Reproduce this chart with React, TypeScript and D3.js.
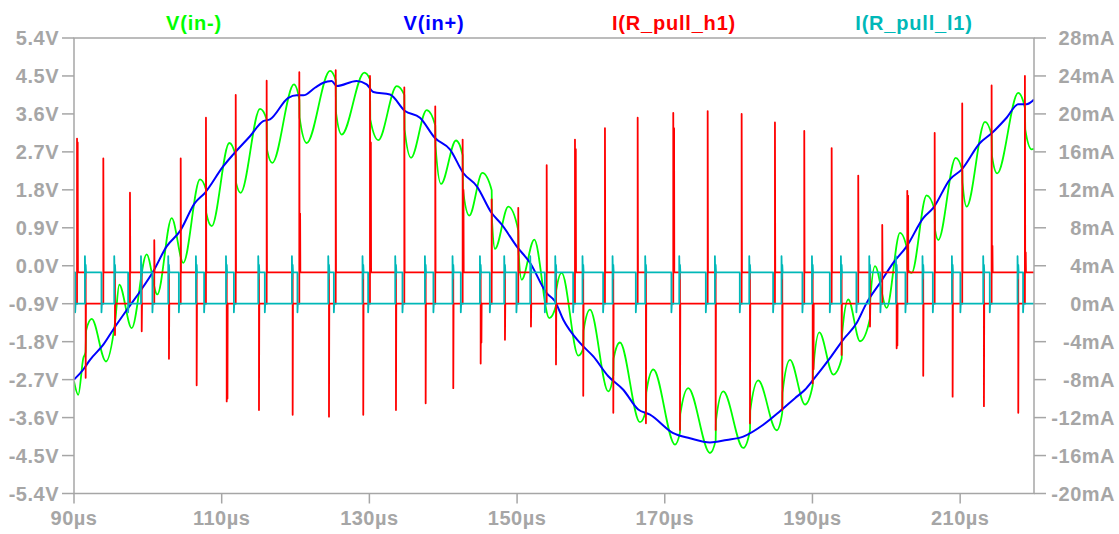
import React from "react";
import * as d3 from "d3";

const W = 1119;
const H = 534;

// axis ticks
const timeTicks = [90, 110, 130, 150, 170, 190, 210];
const voltTicks = [5.4, 4.5, 3.6, 2.7, 1.8, 0.9, 0.0, -0.9, -1.8, -2.7, -3.6, -4.5, -5.4];
const currentTicks = [28, 24, 20, 16, 12, 8, 4, 0, -4, -8, -12, -16, -20];

const traceNames = ["V(in-)", "V(in+)", "I(R_pull_h1)", "I(R_pull_l1)"];
const traceColors = ["#00ff00", "#0000ff", "#ff0000", "#00b8b8"];

// V(in+)  [µs, V]
const vInPlus: [number, number][] = [
  [90.0, -2.70], [91.26, -2.46], [92.17, -2.23], [93.97, -1.87], [95.32, -1.51],
  [97.35, -1.0], [98.94, -0.61], [100.74, -0.13], [102.55, 0.46], [104.35, 0.82],
  [106.38, 1.49], [107.74, 1.73], [110.22, 2.36], [111.57, 2.64], [113.83, 3.07],
  [115.63, 3.43], [116.54, 3.47], [119.02, 3.98], [120.16, 4.04], [121.05, 4.04],
  [122.63, 4.22], [123.76, 4.34], [124.89, 4.38], [125.57, 4.26], [128.28, 4.38],
  [129.63, 4.30], [130.53, 4.12], [132.79, 4.06], [134.82, 3.67], [136.85, 3.51],
  [138.88, 3.03], [140.91, 2.76], [142.71, 2.20], [144.53, 1.89], [146.56, 1.25],
  [147.91, 0.98], [149.95, 0.46], [151.75, 0.07], [154.01, -0.65], [155.13, -0.84],
  [156.26, -1.28], [158.52, -1.83], [160.32, -2.15], [162.35, -2.62], [164.38, -2.94],
  [166.41, -3.41], [168.0, -3.53], [171.15, -3.97], [173.41, -4.09], [176.12, -4.19],
  [178.38, -4.13], [180.63, -4.05], [183.34, -3.77], [185.6, -3.45], [187.63, -3.14],
  [188.98, -2.94], [190.11, -2.70], [192.37, -2.19], [194.17, -1.75], [195.98, -1.36],
  [197.34, -0.88], [199.14, -0.41], [200.94, 0.07], [202.76, 0.46], [205.0, 1.13],
  [206.36, 1.37], [208.62, 2.05], [210.2, 2.28], [212.68, 2.91], [214.26, 3.14],
  [216.29, 3.51], [217.87, 3.83], [219.0, 3.83], [220.0, 3.94],
];

// V(in-)  [µs, V]
const vInMinus: [number, number][] = [
  [90.0, -2.74], [90.58, -3.06], [91.26, -2.19], [91.56, -2.05], [91.65, -1.53],
  [92.4, -1.26], [94.33, -2.27], [95.55, -1.36], [96.13, -0.45], [97.81, -1.48],
  [99.84, 0.27], [101.28, -0.68], [103.23, 1.13], [104.8, 0.07], [107.06, 2.05],
  [107.87, 1.81], [107.91, 1.25], [108.65, 0.94], [111.03, 2.91], [111.9, 2.60],
  [111.94, 1.97], [112.57, 1.73], [115.19, 3.72], [116.09, 3.47], [116.13, 2.76],
  [116.85, 2.44], [119.79, 4.30], [120.51, 3.94], [120.55, 3.51], [121.51, 2.91],
  [124.67, 4.62], [125.44, 4.40], [125.48, 3.63], [126.25, 3.11], [129.31, 4.58],
  [130.08, 4.42], [130.12, 3.47], [131.21, 2.98], [133.7, 4.26], [134.73, 4.05],
  [134.77, 3.23], [135.64, 2.56], [137.76, 3.69], [138.92, 3.33], [138.96, 2.84],
  [139.7, 1.94], [141.73, 2.97], [142.63, 2.62], [142.67, 1.81], [143.53, 1.19],
  [145.29, 2.20], [146.56, 1.79], [146.6, 1.10], [147.01, 0.40], [148.81, 1.40],
  [150.16, 0.84], [150.21, 0.32], [150.62, -0.33], [152.33, 0.62], [154.36, -1.24],
  [155.27, -0.94], [155.31, -0.58], [156.04, -0.17], [158.29, -2.13], [158.97, -1.96],
  [159.01, -1.53], [159.88, -1.04], [162.35, -2.98], [163.03, -2.60], [163.07, -2.20],
  [163.93, -1.82], [166.64, -3.71], [167.45, -3.43], [167.5, -3.00], [168.45, -2.46],
  [171.38, -4.24], [172.06, -3.95], [172.1, -3.52], [173.18, -2.90], [176.12, -4.44],
  [176.89, -4.14], [176.93, -3.67], [177.92, -2.98], [180.63, -4.32], [181.54, -3.90],
  [181.58, -3.43], [182.66, -2.72], [185.15, -3.90], [185.91, -3.48], [185.95, -3.00],
  [186.96, -2.23], [188.99, -3.29], [190.03, -2.84], [190.07, -2.53], [190.93, -1.58],
  [192.82, -2.58], [193.96, -2.20], [194.0, -1.65], [194.85, -0.80], [196.44, -1.79],
  [197.79, -1.25], [197.83, -0.82], [198.47, -0.01], [200.05, -1.00], [201.85, 0.78],
  [202.84, 0.37], [202.88, -0.09], [203.43, -0.17], [205.46, 1.67], [206.55, 1.32],
  [206.59, 0.86], [207.04, 0.61], [209.39, 2.56], [210.28, 2.27], [210.32, 1.97],
  [210.88, 1.40], [213.36, 3.41], [214.26, 3.10], [214.31, 2.60], [215.02, 2.19],
  [217.87, 4.10], [218.77, 3.74], [218.82, 3.23], [219.69, 2.76], [220.0, 2.77],
];

// I(R_pull_h1): switch-on spikes [µs, peak mA] and switch-off spikes [µs, min mA]
const pullHighRise: [number, number][] = [
  [90.41, 17.4], [93.97, 15.3], [97.58, 11.7], [100.87, 6.7], [104.45, 15.3],
  [107.87, 19.6], [111.9, 22.0], [116.09, 23.5], [120.51, 24.4], [125.44, 24.6],
  [130.08, 24.0], [134.73, 22.8], [138.92, 20.8], [142.63, 17.3], [146.56, 11.0],
  [150.16, 10.1], [154.01, 14.6], [157.84, 17.3], [161.9, 18.5], [166.33, 19.6],
  [171.15, 20.1], [175.81, 20.3], [180.41, 20.0], [184.92, 19.1], [188.89, 18.2],
  [192.6, 16.4], [196.2, 13.5], [199.45, 8.3], [202.84, 11.9], [206.55, 18.0],
  [210.28, 21.1], [214.26, 23.0], [218.77, 24.0],
];
const pullHighFall: [number, number][] = [
  [91.58, -7.8], [95.55, -3.3], [99.17, -2.9], [102.86, -5.8], [106.61, -8.6],
  [110.68, -10.3], [115.05, -11.2], [119.61, -11.7], [124.53, -11.9], [129.17, -11.7],
  [133.6, -11.2], [137.62, -10.5], [141.36, -8.9], [145.07, -6.3], [148.36, -3.8],
  [151.88, -2.4], [155.27, -6.4], [158.96, -9.7], [163.03, -11.5], [167.45, -12.6],
  [172.06, -13.3], [176.89, -13.3], [181.54, -12.6], [185.91, -11.2], [190.03, -8.4],
  [193.95, -5.4], [197.79, -2.4], [201.4, -4.7], [205.0, -7.6], [208.98, -9.8],
  [213.22, -10.8], [217.87, -11.5],
];
// second, shorter ringing spikes right after some switch events [µs, mA]
const pullHighEcho: [number, number][] = [
  [90.5, 17.0], [110.78, -10.0], [120.62, 9.5], [130.2, 17.0], [142.74, 12.0],
  [145.17, -4.1], [157.95, 16.3], [171.26, 18.5], [190.14, -6.9], [201.5, -4.4],
  [202.95, 11.4], [214.37, 6.1], [218.88, 5.4],
];

// switched current levels (mA)
const pullLevels = [0, 3.3];
// I(R_pull_l1) edge ringing (mA)
const pullLowEdge = [5.0, 2.6, 4.1, -0.9];

function buildPullHigh(): [number, number][] {
  const [lo, hi] = pullLevels;
  const ev = [
    ...pullHighRise.map(([t, v]) => ({ t, v, kind: "up" })),
    ...pullHighFall.map(([t, v]) => ({ t, v, kind: "down" })),
    ...pullHighEcho.map(([t, v]) => ({ t, v, kind: "echo" })),
  ].sort((a, b) => a.t - b.t);
  const pts: [number, number][] = [[90, lo]];
  let level = lo;
  ev.forEach((e) => {
    if (e.kind === "up") {
      pts.push([e.t, lo], [e.t, e.v], [e.t + 0.04, hi]);
      level = hi;
    } else if (e.kind === "down") {
      pts.push([e.t, hi], [e.t, e.v], [e.t + 0.04, lo]);
      level = lo;
    } else {
      pts.push([e.t, level], [e.t, e.v], [e.t + 0.03, level]);
    }
  });
  pts.push([220, level]);
  return pts;
}

function buildPullLow(): [number, number][] {
  const [lo, hi] = pullLevels;
  const [over, ring1, ring2, under] = pullLowEdge;
  const ev = [
    ...pullHighRise.map(([t]) => ({ t: t - 0.25, fall: true })),
    ...pullHighFall.map(([t]) => ({ t: t - 0.1, fall: false })),
  ].sort((a, b) => a.t - b.t);
  const pts: [number, number][] = [[90, hi]];
  let level = hi;
  ev.forEach((e) => {
    if (e.fall) {
      pts.push([e.t, hi], [e.t, under], [e.t + 0.05, lo]);
      level = lo;
    } else {
      pts.push([e.t, lo], [e.t, over], [e.t + 0.05, ring1], [e.t + 0.1, ring2], [e.t + 0.15, hi]);
      level = hi;
    }
  });
  pts.push([220, level]);
  return pts;
}

export default function App() {
  const left = 74;
  const right = 1034;
  const top = 38;
  const bottom = 493.5;

  const x = d3.scaleLinear().domain([90, 220]).range([left, right]);
  const yV = d3.scaleLinear().domain([-5.4, 5.4]).range([bottom, top]);
  const yI = d3.scaleLinear().domain([-20, 28]).range([bottom, top]);

  const vLine = d3
    .line<[number, number]>()
    .x((d) => x(d[0]))
    .y((d) => yV(d[1]))
    .curve(d3.curveMonotoneX);
  const iLine = d3
    .line<[number, number]>()
    .x((d) => x(d[0]))
    .y((d) => yI(d[1]));

  const font = "'Liberation Sans', Arial, sans-serif";
  const grey = "#a6a6a6";

  return (
    <svg
      width={W}
      height={H}
      style={{ position: "absolute", left: 0, top: 0, background: "#fff" }}
    >
      <defs>
        <clipPath id="plot">
          <rect x={left} y={top} width={right - left} height={bottom - top} />
        </clipPath>
      </defs>

      {/* trace titles */}
      {traceNames.map((n, i) => (
        <text
          key={n}
          x={left + (i + 0.5) * 240}
          y={30}
          textAnchor="middle"
          fill={traceColors[i]}
          fontFamily={font}
          fontWeight="bold"
          fontSize={20}
          letterSpacing={0.8}
        >
          {n}
        </text>
      ))}

      {/* traces */}
      <g clipPath="url(#plot)" fill="none" strokeLinejoin="round">
        <path d={vLine(vInMinus) ?? ""} stroke={traceColors[0]} strokeWidth={1.8} />
        <path d={vLine(vInPlus) ?? ""} stroke={traceColors[1]} strokeWidth={2} />
        <path d={iLine(buildPullHigh()) ?? ""} stroke={traceColors[2]} strokeWidth={1.8} />
        <path d={iLine(buildPullLow()) ?? ""} stroke={traceColors[3]} strokeWidth={1.8} />
      </g>

      {/* frame */}
      <rect
        x={left}
        y={top}
        width={right - left}
        height={bottom - top}
        fill="none"
        stroke={grey}
        strokeWidth={1.5}
      />

      {/* left axis */}
      {voltTicks.map((v) => (
        <g key={"v" + v}>
          <line x1={left - 12} x2={left} y1={yV(v)} y2={yV(v)} stroke={grey} strokeWidth={1.5} />
          <text
            x={59}
            y={yV(v) + 7}
            textAnchor="end"
            fill={grey}
            fontFamily={font}
            fontWeight="bold"
            fontSize={20}
            letterSpacing={0.5}
          >
            {v.toFixed(1) + "V"}
          </text>
        </g>
      ))}

      {/* right axis */}
      {currentTicks.map((c) => (
        <g key={"c" + c}>
          <line x1={right} x2={right + 12} y1={yI(c)} y2={yI(c)} stroke={grey} strokeWidth={1.5} />
          <text
            x={1115}
            y={yI(c) + 7}
            textAnchor="end"
            fill={grey}
            fontFamily={font}
            fontWeight="bold"
            fontSize={20}
            letterSpacing={0.5}
          >
            {c + "mA"}
          </text>
        </g>
      ))}

      {/* bottom axis */}
      {timeTicks.map((t) => (
        <g key={"t" + t}>
          <line x1={x(t)} x2={x(t)} y1={bottom} y2={bottom + 10} stroke={grey} strokeWidth={1.5} />
          <text
            x={x(t)}
            y={525}
            textAnchor="middle"
            fill={grey}
            fontFamily={font}
            fontWeight="bold"
            fontSize={20}
            letterSpacing={0.5}
          >
            {t + "µs"}
          </text>
        </g>
      ))}
    </svg>
  );
}
